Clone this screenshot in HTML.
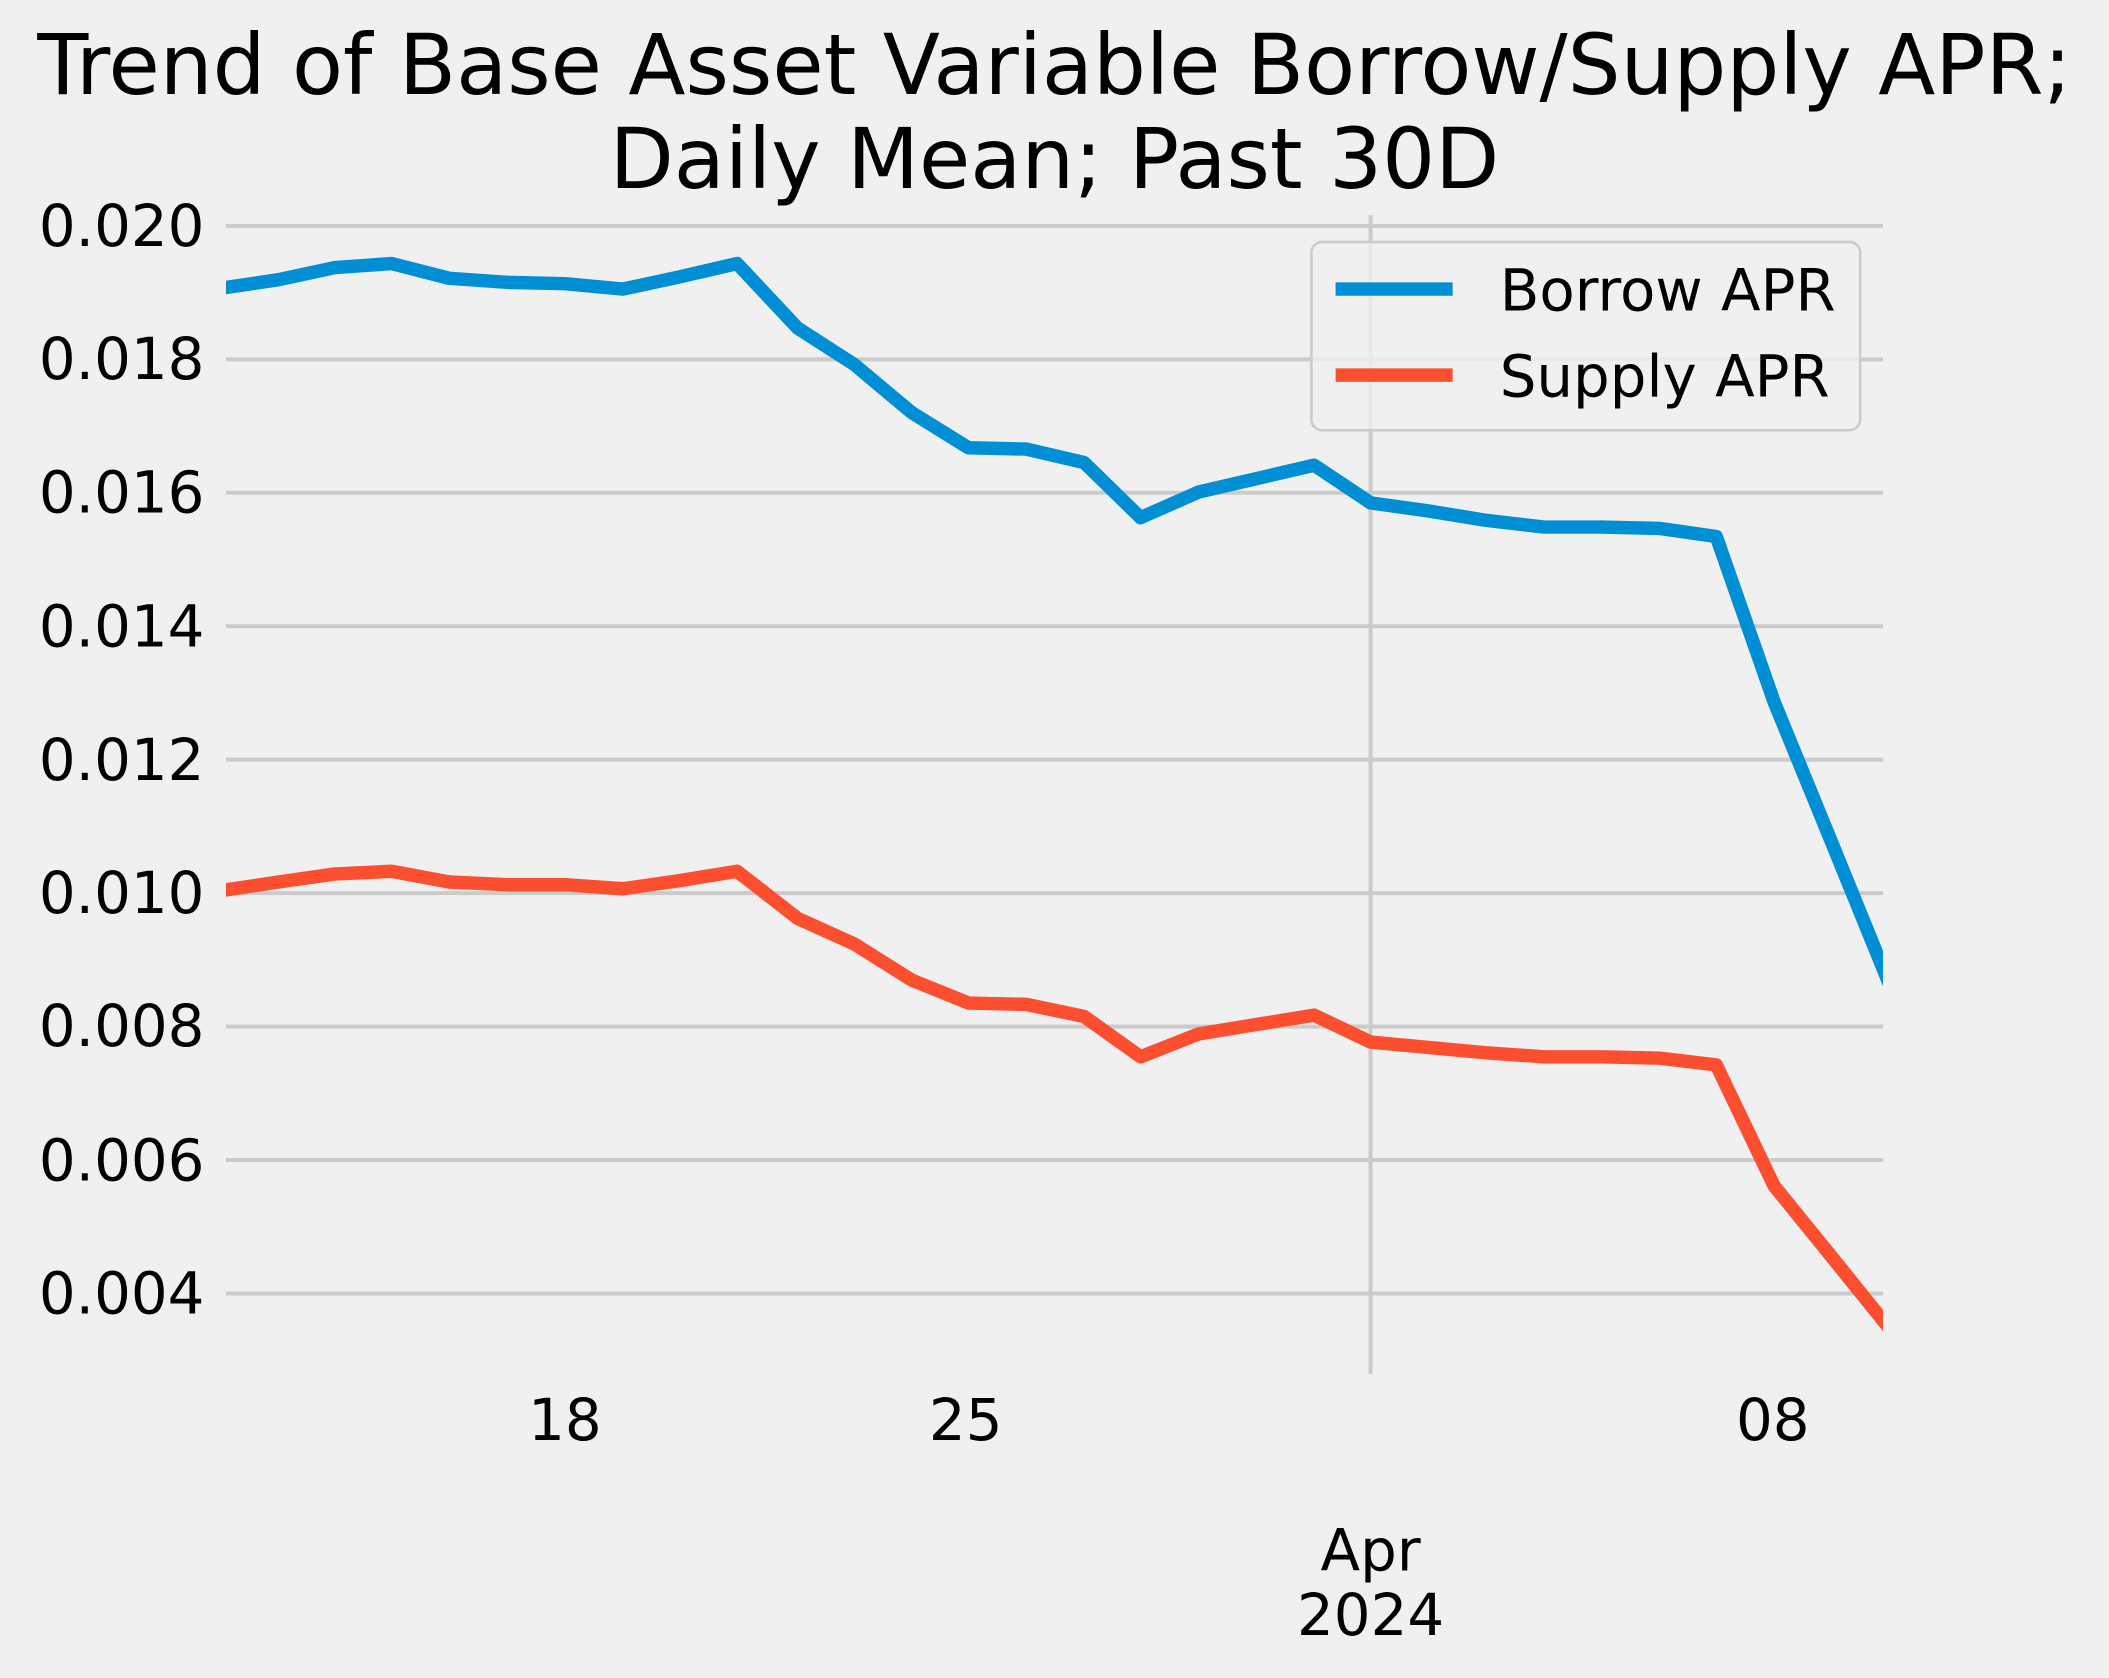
<!DOCTYPE html>
<html><head><meta charset="utf-8"><style>
html,body{margin:0;padding:0;background:#f0f0f0;}
svg{display:block;}
text{font-family:"DejaVu Sans","Liberation Sans",sans-serif;fill:#000;}
</style></head><body>
<svg width="2109" height="1678" viewBox="0 0 1568 1248" preserveAspectRatio="none" xmlns="http://www.w3.org/2000/svg">
<rect width="1568" height="1248" fill="#f0f0f0"/>
<text x="784" y="70" font-size="62" text-anchor="middle">Trend of Base Asset Variable Borrow/Supply APR;</text>
<text x="784" y="140" font-size="62" text-anchor="middle">Daily Mean; Past 30D</text>
<g stroke="#cbcbcb" stroke-width="3">
<line x1="168" x2="1400" y1="168" y2="168"/>
<line x1="168" x2="1400" y1="267.25" y2="267.25"/>
<line x1="168" x2="1400" y1="366.5" y2="366.5"/>
<line x1="168" x2="1400" y1="465.75" y2="465.75"/>
<line x1="168" x2="1400" y1="565" y2="565"/>
<line x1="168" x2="1400" y1="664.25" y2="664.25"/>
<line x1="168" x2="1400" y1="763.5" y2="763.5"/>
<line x1="168" x2="1400" y1="862.75" y2="862.75"/>
<line x1="168" x2="1400" y1="962" y2="962"/>
<line x1="1019" x2="1019" y1="160" y2="1022"/>
</g>
<g font-size="43" text-anchor="end">
<text x="152" y="183">0.020</text>
<text x="152" y="282">0.018</text>
<text x="152" y="381">0.016</text>
<text x="152" y="481">0.014</text>
<text x="152" y="580">0.012</text>
<text x="152" y="679">0.010</text>
<text x="152" y="778">0.008</text>
<text x="152" y="878">0.006</text>
<text x="152" y="977">0.004</text>
</g>
<g font-size="43" text-anchor="middle">
<text x="420" y="1071">18</text>
<text x="718" y="1071">25</text>
<text x="1318" y="1071">08</text>
<text x="1019" y="1168">Apr</text>
<text x="1019" y="1216">2024</text>
</g>
<defs><clipPath id="c"><rect x="168" y="120" width="1232" height="900"/></clipPath></defs>
<g clip-path="url(#c)" fill="none" stroke-width="10" stroke-linejoin="round">
<polyline stroke="#008fd5" points="160,215 207,208 249,199 291,196 334,207 377,210 420,211 463,215 505,206 548,196 593,244 635,271 678,307 720,333 763,334 806,344 848,385 891,366 934,356 977,346 1019,374 1062,380 1105,387 1148,392 1191,392 1234,393 1276,399 1319,522 1362,627 1408,740"/>
<polyline stroke="#fc4f30" points="160,663 207,656 249,650 291,648 334,656 377,658 420,658 463,661 505,655 548,648 593,683 635,702 678,729 720,746 763,747 806,756 848,786 891,769 934,762 977,755 1019,775 1062,779 1105,783 1148,786 1191,786 1234,787 1276,792 1319,882 1362,935 1408,992"/>
</g>
<rect x="975" y="180" width="408" height="140" rx="8" fill="#f0f0f0" fill-opacity="0.8" stroke="#cccccc" stroke-width="2"/>
<line x1="993" x2="1080" y1="215" y2="215" stroke="#008fd5" stroke-width="10"/>
<line x1="993" x2="1080" y1="279" y2="279" stroke="#fc4f30" stroke-width="10"/>
<text x="1115" y="231" font-size="43">Borrow APR</text>
<text x="1115" y="295" font-size="43">Supply APR</text>
</svg>
</body></html>
